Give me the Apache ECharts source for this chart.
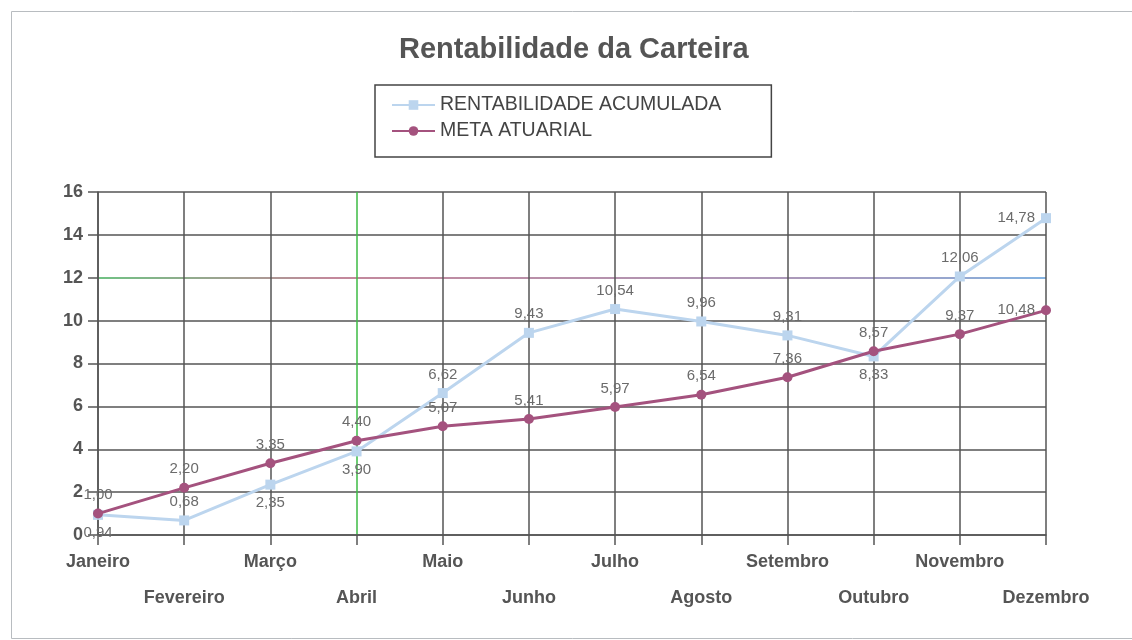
<!DOCTYPE html>
<html><head><meta charset="utf-8">
<script src="https://cdn.jsdelivr.net/npm/echarts@6/dist/echarts.min.js"></script>
<style>html,body{margin:0;padding:0;background:#fff}#c{width:1132px;height:640px}</style>
</head><body><div id="c"></div>
<script>
const months = ['Janeiro','Fevereiro','Março','Abril','Maio','Junho','Julho','Agosto','Setembro','Outubro','Novembro','Dezembro'];
const rentabilidade = [0.94, 0.68, 2.35, 3.90, 6.62, 9.43, 10.54, 9.96, 9.31, 8.33, 12.06, 14.78];
const metaAtuarial = [1.00, 2.20, 3.35, 4.40, 5.07, 5.41, 5.97, 6.54, 7.36, 8.57, 9.37, 10.48];
const yTicks = [0, 2, 4, 6, 8, 10, 12, 14, 16];

const FONT = '"Liberation Sans", Arial, sans-serif';
const fmt = v => v.toFixed(2).replace('.', ',');

function rentPos(i) {
  if (i === 11) return 'left';
  return [0, 2, 3, 9].includes(i) ? 'bottom' : 'top';
}
function metaPos(i) { return i === 11 ? 'left' : 'top'; }

const labelBase = { show: true, fontFamily: FONT, fontSize: 15, color: '#6b6b6b', distance: 6, formatter: p => fmt(p.value) };

const rentData = rentabilidade.map((v, i) => ({ value: v, label: { position: rentPos(i) } }));
const metaData = metaAtuarial.map((v, i) => ({ value: v, label: { position: metaPos(i) } }));

const gridColor = '#555555';
const xLineColors = months.map((m, i) => i === 3 ? '#3dbb45' : gridColor);
const line12 = new echarts.graphic.LinearGradient(0, 0, 1, 0, [
  { offset: 0, color: '#3fae5a' },
  { offset: 0.25, color: '#b0607a' },
  { offset: 0.8, color: '#8a7aa8' },
  { offset: 1, color: '#5a9ad8' }
]);
const yLineColors = yTicks.map(t => t === 12 ? line12 : gridColor);

const chart = echarts.init(document.getElementById('c'));
chart.setOption({
  backgroundColor: '#ffffff',
  animation: false,
  graphic: [{
    type: 'rect', left: 9, top: 9,
    shape: { width: 1140, height: 627 },
    style: { fill: 'none', stroke: '#b8bcc0', lineWidth: 1 }, silent: true
  }],
  title: {
    text: 'Rentabilidade da Carteira',
    left: 394, top: 30,
    textStyle: { fontFamily: FONT, fontWeight: 'bold', fontSize: 29, color: '#555555' }
  },
  legend: {
    orient: 'vertical', left: 375, top: 85,
    padding: [10, 50, 16, 16], itemGap: 6,
    itemWidth: 43, itemHeight: 12,
    borderColor: '#444', borderWidth: 1.5,
    textStyle: { fontFamily: FONT, fontSize: 19.5, color: '#444' },
    data: ['RENTABILIDADE ACUMULADA', 'META ATUARIAL']
  },
  grid: { left: 98, right: 86, top: 192, bottom: 105, containLabel: false },
  xAxis: {
    type: 'category', data: months, boundaryGap: false,
    axisLine: { lineStyle: { color: gridColor, width: 1.5 } },
    axisTick: { show: true, length: 10, lineStyle: { color: gridColor, width: 1.5 } },
    axisLabel: {
      interval: 0, margin: 9, fontFamily: FONT, fontWeight: 'bold', fontSize: 18, color: '#555',
      lineHeight: 36,
      formatter: (v, i) => i % 2 ? '\n' + v : v
    },
    splitLine: { show: true, lineStyle: { color: xLineColors, width: 1.5 } }
  },
  yAxis: {
    type: 'value', min: 0, max: 16, interval: 2,
    axisLine: { show: true, lineStyle: { color: gridColor, width: 1.5 } },
    axisTick: { show: true, length: 10, lineStyle: { color: gridColor, width: 1.5 } },
    axisLabel: { margin: 15, fontFamily: FONT, fontWeight: 'bold', fontSize: 18, color: '#555' },
    splitLine: { show: true, lineStyle: { color: yLineColors, width: 1.5 } }
  },
  series: [
    {
      name: 'RENTABILIDADE ACUMULADA', type: 'line', data: rentData,
      symbol: 'rect', symbolSize: 10,
      lineStyle: { color: '#bcd5ee', width: 3 },
      itemStyle: { color: '#bcd5ee' },
      label: labelBase, z: 3
    },
    {
      name: 'META ATUARIAL', type: 'line', data: metaData,
      symbol: 'circle', symbolSize: 10,
      lineStyle: { color: '#a4527e', width: 3 },
      itemStyle: { color: '#a4527e' },
      label: labelBase, z: 4
    }
  ]
});
</script></body></html>
